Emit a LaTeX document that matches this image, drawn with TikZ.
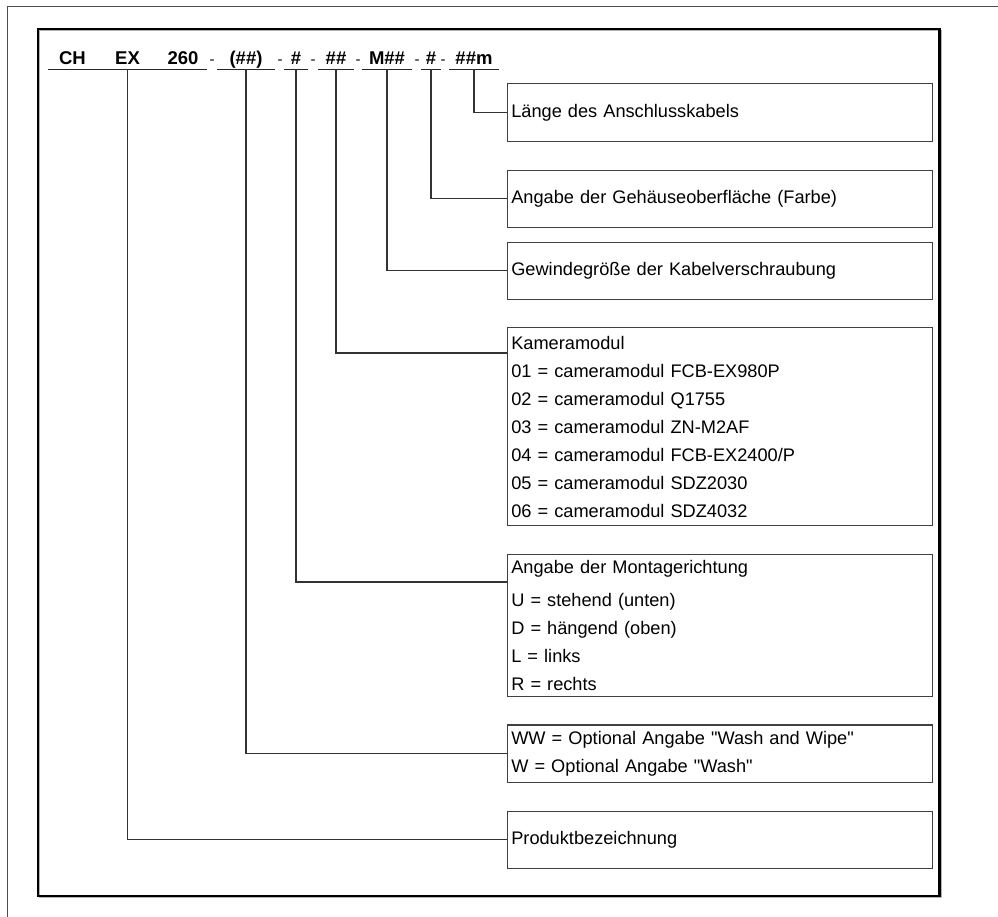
\documentclass[tikz,border=0pt]{standalone}
\usepackage{fontspec}
\setmainfont{Liberation Sans}
\tikzset{
  code/.style={font=\bfseries\fontsize{18.5}{20}\selectfont,inner sep=0pt,anchor=base},
  seg/.style={code,text depth=4pt,minimum height=0pt},
  sep/.style={font=\fontsize{15}{16}\selectfont,inner sep=0pt,anchor=base},
  infobox/.style={draw=black!75,line width=1.2pt,anchor=north west,align=left,text width=417pt,inner xsep=4pt,inner ysep=0pt,font=\fontsize{18.2}{28}\selectfont},
  wire/.style={draw=black!80,line width=1.1pt},
  uline/.style={draw=black!85,line width=1.3pt}
}
\begin{document}
\begin{tikzpicture}[x=1pt,y=-1pt]
  \useasboundingbox (0,0) rectangle (998,917);
  % frames
  \draw[black!70,line width=1.2pt] (7.3,917) |- (998,6.7);
  \draw[gray!60,line width=1pt] (39.5,30.5) rectangle (941,897.5);
  \draw[black,line width=2.4pt] (38.2,28.8) rectangle (939.5,896);

  % type code
  \node[code] (ch) at (72.5,65) {CH};
  \node[seg,minimum width=159pt] (typ) at (127.5,65) {EX};
  \node[code] (num) at (183,65) {260};
  \node[seg,minimum width=58pt] (opt) at (246,65) {(\#\#)};
  \node[seg,minimum width=24pt] (dir) at (296,65) {\#};
  \node[seg,minimum width=36pt] (cam) at (336,65) {\#\#};
  \node[seg,minimum width=50pt] (thr) at (387,65) {M\#\#};
  \node[seg,minimum width=20pt] (col) at (431,65) {\#};
  \node[seg,minimum width=50pt] (len) at (474,65) {\#\#m};
  \foreach \name/\x in {s1/212,s2/280,s3/313,s4/358,s5/417,s6/443}
    \node[sep] (\name) at (\x,65) {-};
  \foreach \name in {typ,opt,dir,cam,thr,col,len}
    \draw[uline] (\name.south west) -- (\name.south east);

  % explanations
  \node[infobox,minimum height=57.4pt] (lenbox) at (506.7,83.3) {Länge des Anschlusskabels};
  \node[infobox,minimum height=56.7pt] (colbox) at (506.7,170) {Angabe der Gehäuseoberfläche (Farbe)};
  \node[infobox,minimum height=57.3pt] (thrbox) at (506.7,241.7) {Gewindegröße der Kabelverschraubung};
  \node[infobox,minimum height=198pt] (cambox) at (506.7,327) {Kameramodul\\
    01 = cameramodul FCB-EX980P\\
    02 = cameramodul Q1755\\
    03 = cameramodul ZN-M2AF\\
    04 = cameramodul FCB-EX2400/P\\
    05 = cameramodul SDZ2030\\
    06 = cameramodul SDZ4032};
  \node[infobox,minimum height=141.7pt] (dirbox) at (506.7,554) {Angabe der Montagerichtung\\[5pt]
    U = stehend (unten)\\
    D = hängend (oben)\\
    L = links\\
    R = rechts};
  \node[infobox,minimum height=57.7pt] (optbox) at (506.7,724.3) {WW = Optional Angabe \textquotedbl Wash and Wipe\textquotedbl\\
    W = Optional Angabe \textquotedbl Wash\textquotedbl};
  \node[infobox,minimum height=57pt] (typbox) at (506.7,810.7) {Produktbezeichnung};

  \draw[wire] (len.south) |- (lenbox.west);
  \draw[wire] (col.south) |- (colbox.west);
  \draw[wire] (thr.south) |- (thrbox.west);
  \draw[wire] (cam.south) |- ([yshift=-26pt]cambox.north west);
  \draw[wire] (dir.south) |- ([yshift=-28pt]dirbox.north west);
  \draw[wire] (opt.south) |- (optbox.west);
  \draw[wire] (typ.south) |- (typbox.west);
\end{tikzpicture}
\end{document}
